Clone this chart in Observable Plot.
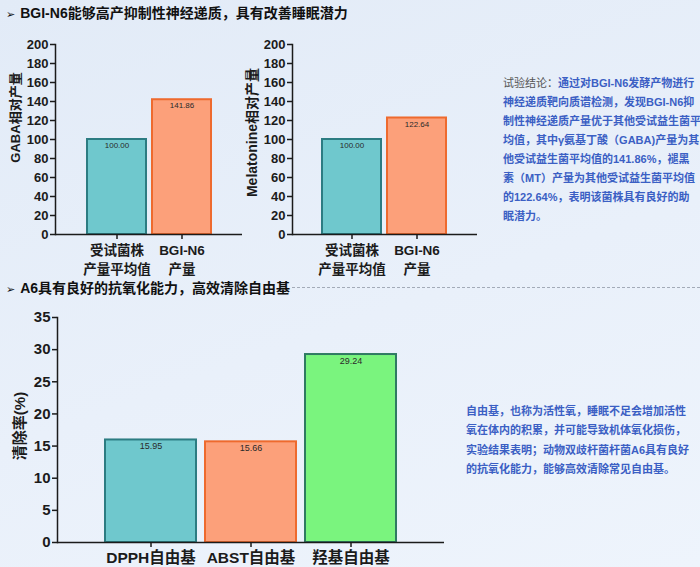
<!DOCTYPE html>
<html>
<head>
<meta charset="utf-8">
<script src="https://cdn.jsdelivr.net/npm/d3@7"></script>
<script src="https://cdn.jsdelivr.net/npm/@observablehq/plot@0.6"></script>
<style>
  body { margin: 0; }
  #page {
    position: relative; width: 700px; height: 567px; overflow: hidden;
    background: linear-gradient(160deg, #e2ebf7 0%, #e9f0fa 55%, #eef4fc 100%);
    font-family: "Liberation Sans", "Noto Sans CJK SC", sans-serif;
  }
  .abs { position: absolute; }
  .title { font-size: 14px; font-weight: bold; color: #111; white-space: nowrap; line-height: 16px; }
  .title .arrow { font-family: "DejaVu Sans", sans-serif; font-size: 11px; margin-right: 5px; }
  .dash { border-top: 1px dashed #a3abb8; height: 0; }
  .note { font-size: 11px; font-weight: bold; color: #3b5fc4; line-height: 19px; white-space: nowrap; }
  .note .lead { color: #555; font-weight: normal; }
</style>
</head>
<body>
<div id="page">
  <div class="abs title" style="left:6px; top:5px;"><span class="arrow">&#10146;</span>BGI-N6能够高产抑制性神经递质，具有改善睡眠潜力</div>
  <div class="abs dash" style="left:292px; top:287px; width:408px;"></div>
  <div class="abs title" style="left:6px; top:280px;"><span class="arrow">&#10146;</span>A6具有良好的抗氧化能力，高效清除自由基</div>

  <div class="abs note" style="left:503px; top:74px;">
    <div><span class="lead">试验结论：</span>通过对BGI-N6发酵产物进行</div>
    <div>神经递质靶向质谱检测，发现BGI-N6抑</div>
    <div>制性神经递质产量优于其他受试益生菌平</div>
    <div>均值，其中γ氨基丁酸（GABA)产量为其</div>
    <div>他受试益生菌平均值的141.86%，褪黑</div>
    <div>素（MT）产量为其他受试益生菌平均值</div>
    <div>的122.64%，表明该菌株具有良好的助</div>
    <div>眠潜力。</div>
  </div>

  <div class="abs note" style="left:466px; top:402px; line-height:19.3px;">
    <div>自由基，也称为活性氧，睡眠不足会增加活性</div>
    <div>氧在体内的积累，并可能导致机体氧化损伤，</div>
    <div>实验结果表明；动物双歧杆菌杆菌A6具有良好</div>
    <div>的抗氧化能力，能够高效清除常见自由基。</div>
  </div>

  <div id="c1" class="abs" style="left:0px; top:30px;"></div>
  <div id="c2" class="abs" style="left:240px; top:30px;"></div>
  <div id="c3" class="abs" style="left:0px; top:300px;"></div>
</div>

<script>
// ---- data ----
const strainCategories = ["受试菌株\n产量平均值", "BGI-N6\n产量"];
const gabaValues = [100.00, 141.86];
const melatoninValues = [100.00, 122.64];
const productionTicks = [0, 20, 40, 60, 80, 100, 120, 140, 160, 180, 200];

const radicalCategories = ["DPPH自由基", "ABST自由基", "羟基自由基"];
const scavengingValues = [15.95, 15.66, 29.24];
const scavengingTicks = [0, 5, 10, 15, 20, 25, 30, 35];

// ---- styles ----
const barFills = ["#6fc8cd", "#fca07a", "#7af47e"];
const barStrokes = ["#2c7c82", "#ee6a2e", "#2f7a62"];
const FONT = "Liberation Sans, Noto Sans CJK SC, sans-serif";

function barChart(o) {
  const data = o.categories.map((c, i) => ({cat: c, value: o.values[i], fill: barFills[i], stroke: barStrokes[i]}));
  return Plot.plot({
    width: o.width, height: o.height,
    marginTop: o.mt, marginBottom: o.mb, marginLeft: o.ml, marginRight: o.mr,
    style: {background: "transparent", fontFamily: FONT, color: "#1b1b1b", overflow: "visible"},
    x: {domain: o.categories, paddingInner: o.pi, paddingOuter: o.po, label: null},
    y: {domain: o.yDomain, label: null},
    color: {type: "identity"},
    marks: [
      Plot.barY(data, {x: "cat", y: "value", fill: "fill", stroke: "stroke", strokeWidth: 2}),
      Plot.text(data, {x: "cat", y: "value", text: d => d.value.toFixed(2), lineAnchor: "top", dy: o.valueDy, fontSize: o.valueFont, fill: "#2a2a2a"}),
      Plot.ruleY([0], {stroke: "#1b1b1b", strokeWidth: 1.5}),
      Plot.frame({anchor: "left", stroke: "#1b1b1b", strokeWidth: 1.5}),
      Plot.axisY({ticks: o.yTicks, tickSize: 5, tickPadding: 2, fontSize: o.tickFont, fontWeight: "bold", label: null, strokeWidth: 1.5}),
      Plot.axisX({tickSize: 5, tickPadding: o.xPad, fontSize: o.catFont, fontWeight: "bold", lineHeight: o.lineHeight, label: null, strokeWidth: 1.5}),
      Plot.text([o.yLabel], {text: d => d, frameAnchor: "left", textAnchor: "middle", rotate: -90, dx: o.labelDx, dy: o.labelDy, fontSize: o.labelFont, fontWeight: "bold", fill: "#1b1b1b"})
    ]
  });
}

document.getElementById("c1").append(barChart({
  width: 250, height: 250, mt: 14, mb: 46, ml: 55, mr: 8,
  categories: strainCategories, values: gabaValues, yDomain: [0, 200], yTicks: productionTicks,
  pi: 0.1, po: 0.47, tickFont: 13, catFont: 13.5, lineHeight: 1.35, xPad: 3,
  valueFont: 8, valueDy: 3, yLabel: "GABA相对产量", labelDx: -40, labelDy: -22, labelFont: 13
}));

document.getElementById("c2").append(barChart({
  width: 250, height: 250, mt: 14, mb: 46, ml: 52, mr: 13,
  categories: strainCategories, values: melatoninValues, yDomain: [0, 200], yTicks: productionTicks,
  pi: 0.09, po: 0.46, tickFont: 13, catFont: 13.5, lineHeight: 1.35, xPad: 3,
  valueFont: 8, valueDy: 3, yLabel: "Melatonine相对产量", labelDx: -40, labelDy: -7, labelFont: 14
}));

document.getElementById("c3").append(barChart({
  width: 450, height: 267, mt: 17, mb: 25, ml: 57, mr: 6,
  categories: radicalCategories, values: scavengingValues, yDomain: [0, 35], yTicks: scavengingTicks,
  pi: 0.094, po: 0.463, tickFont: 15, catFont: 15.5, lineHeight: 1, xPad: 4,
  valueFont: 9, valueDy: 3, yLabel: "清除率(%)", labelDx: -37, labelDy: -4, labelFont: 15
}));
</script>
</body>
</html>
